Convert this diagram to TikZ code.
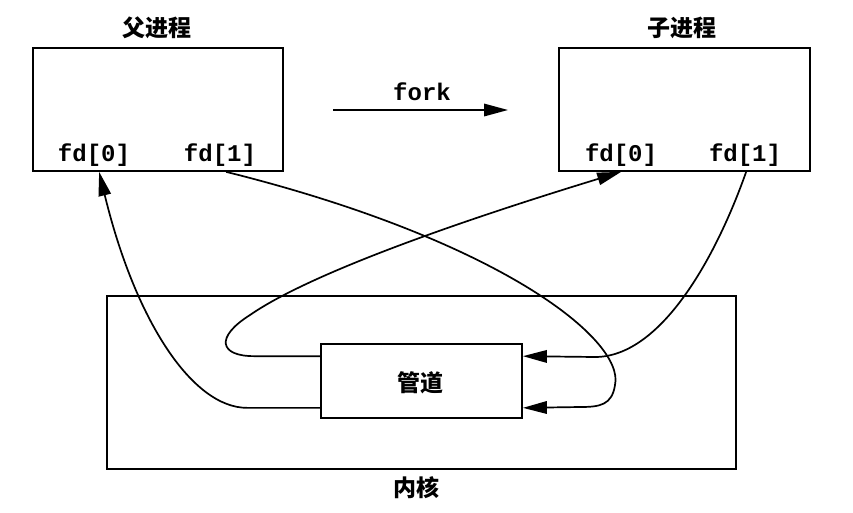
\documentclass[tikz,border=0pt]{standalone}
\usepackage{fontspec}
\setmonofont{Liberation Mono}
\newfontfamily\cjk{Noto Sans CJK SC}
\usetikzlibrary{arrows.meta,calc}
\begin{document}
\begin{tikzpicture}[x=1pt,y=-1pt, line width=1.7pt,
  box/.style={draw, line width=1.7pt, inner sep=0pt},
  tip/.style={-{Triangle[length=24pt,width=12.5pt]}},
  fdlab/.style={font=\fontsize{24}{24}\selectfont\ttfamily\bfseries, inner sep=0pt},
  title/.style={font=\fontsize{23}{23}\selectfont\cjk\bfseries, inner sep=0pt}]
\useasboundingbox (0,0) rectangle (853,512);
% boxes
\node[box, minimum width=250pt, minimum height=123pt] (parent) at (158,109.5) {};
\node[box, minimum width=251pt, minimum height=123pt] (child) at (684.5,109.5) {};
\node[box, minimum width=629pt, minimum height=173pt] (kernel) at (421.5,382.5) {};
\node[box, minimum width=201pt, minimum height=74pt, fill=white] (pipe) at (421.5,381) {};
% titles
\node[title] (pt) at (157,28) {父进程};
\node[title] (ct) at (682,28) {子进程};
\node[title] (pl) at (420,383) {管道};
\node[title] (kl) at (416,488) {内核};
% fd labels
\node[fdlab] (pfd0) at (94,155) {fd[0]};
\node[fdlab] (pfd1) at (220,155) {fd[1]};
\node[fdlab] (cfd0) at (621,155) {fd[0]};
\node[fdlab] (cfd1) at (745,155) {fd[1]};
% fork
\node[fdlab] (fork) at (422,92) {fork};
\coordinate (fs) at (333,110);
\coordinate (fe) at (508,110);
\draw[tip] (fs) -- (fe);
% ports
\coordinate (pinU) at ($(pipe.north west)+(0,13)$);
\coordinate (pinL) at ($(pipe.south west)+(0,-11)$);
\coordinate (poutU) at ($(pipe.north east)+(0,13)$);
\coordinate (poutL) at ($(pipe.south east)+(0,-11)$);
\coordinate (p0) at ($(parent.south west)+(67,0)$);
\coordinate (p1) at ($(parent.south west)+(194,0)$);
\coordinate (c0) at ($(child.south west)+(63,0)$);
\coordinate (c1) at ($(child.south west)+(188,0)$);
% connectors
\draw[tip] (pinL) -- ++(-73,0) .. controls +(-55,0) and (135,320) .. (p0);
\draw[tip] (p1) .. controls (500,240) and (625,340) .. (615,385)
  .. controls (612,405) and (600,407) .. (580,407) -- (poutL);
\draw[tip] (pinU) -- ++(-66,0) .. controls +(-35,0) and (215,337) .. (250,315)
  .. controls (315,270) and (480,215) .. (c0);
\draw[tip] (c1) .. controls (715,260) and (660,357) .. (595,357) -- (poutU);
\end{tikzpicture}
\end{document}
